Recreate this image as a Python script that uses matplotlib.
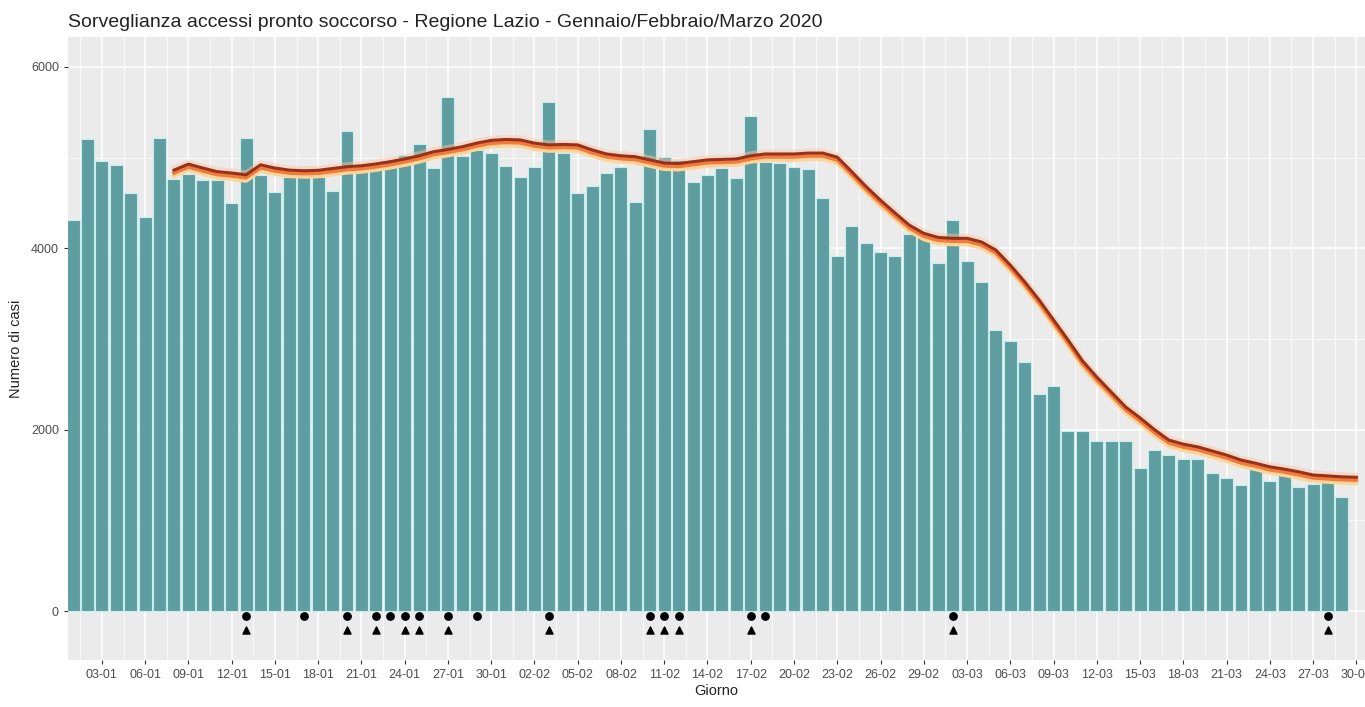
import numpy as np
import matplotlib
matplotlib.use("Agg")
import matplotlib.pyplot as plt
from matplotlib.ticker import MultipleLocator

# daily accesses, 01-01 .. 29-03 2020
accessi = [4310, 5210, 4960, 4915, 4608, 4345, 5215, 4760, 4818, 4750,
           4750, 4500, 5215, 4810, 4620, 4790, 4790, 4790, 4630, 5295,
           4862, 4900, 4970, 5030, 5150, 4885, 5670, 5020, 5080, 5050,
           4905, 4785, 4895, 5610, 5050, 4610, 4690, 4830, 4895, 4510,
           5315, 5010, 4970, 4730, 4805, 4885, 4775, 5460, 4950, 4940,
           4895, 4875, 4555, 3915, 4250, 4060, 3960, 3915, 4155, 4120,
           3840, 4310, 3860, 3625, 3100, 2980, 2745, 2390, 2485, 1985,
           1985, 1875, 1875, 1875, 1580, 1775, 1720, 1675, 1675, 1525,
           1465, 1390, 1565, 1435, 1515, 1370, 1400, 1450, 1260]

# smoothed trend, from 08-01 (day 7) to 30-03 (day 89)
trend_start = 7
trend = [4862, 4928, 4885, 4845, 4830, 4810, 4920, 4885, 4862, 4855,
         4860, 4880, 4900, 4910, 4930, 4955, 4985, 5020, 5065, 5090,
         5120, 5160, 5190, 5200, 5195, 5160, 5140, 5145, 5140, 5085,
         5040, 5020, 5010, 4975, 4940, 4935, 4955, 4975, 4980, 4985,
         5020, 5040, 5040, 5040, 5050, 5050, 5005, 4845, 4680, 4530,
         4390, 4255, 4165, 4120, 4110, 4110, 4070, 3980, 3815, 3630,
         3430, 3210, 2990, 2760, 2580, 2415, 2250, 2130, 2000, 1885,
         1840, 1810, 1765, 1720, 1665, 1630, 1590, 1565, 1535, 1500,
         1490, 1480, 1475]

# alert markers (day index)
giorni_cerchio = [12, 16, 19, 21, 22, 23, 24, 26, 28, 33, 40, 41, 42, 47, 48, 61, 87]
giorni_triangolo = [12, 19, 21, 23, 24, 26, 33, 40, 41, 42, 47, 61, 87]

tick_giorni = list(range(2, 90, 3))
tick_labels = ['03-01', '06-01', '09-01', '12-01', '15-01', '18-01', '21-01',
               '24-01', '27-01', '30-01', '02-02', '05-02', '08-02', '11-02',
               '14-02', '17-02', '20-02', '23-02', '26-02', '29-02', '03-03',
               '06-03', '09-03', '12-03', '15-03', '18-03', '21-03', '24-03',
               '27-03', '30-03']

plt.rcParams['font.family'] = ['Liberation Sans', 'DejaVu Sans']

fig = plt.figure(figsize=(13.65, 7.07), dpi=100)
ax = fig.add_axes([68 / 1365, 1 - 660 / 707, 1 - 68 / 1365, (660 - 37) / 707])
ax.set_facecolor('#EBEBEB')

x = np.arange(len(accessi))
ax.bar(x, accessi, width=0.9, color='#5F9EA0', edgecolor='#c6eef0',
       linewidth=0.8, zorder=2)

xt = np.arange(trend_start, trend_start + len(trend))
t = np.array(trend, dtype=float)
ax.plot(xt, t + 20, color='#f9c6a0', lw=4, alpha=0.45, zorder=3)
ax.plot(xt, t - 65, color='#fdd59a', lw=3, zorder=4)
ax.plot(xt, t - 32, color='#f27a3a', lw=2.6, zorder=5)
ax.plot(xt, t, color='#99301a', lw=2.2, zorder=6)

ax.scatter(giorni_cerchio, [-50] * len(giorni_cerchio), marker='o', s=28,
           color='black', zorder=7)
ax.scatter(giorni_triangolo, [-210] * len(giorni_triangolo), marker='^', s=26,
           color='black', zorder=7)

ax.set_xlim(-0.35, 89.6)
ax.set_ylim(-540, 6330)

ax.set_yticks([0, 2000, 4000, 6000])
ax.yaxis.set_minor_locator(MultipleLocator(1000))
ax.set_xticks(tick_giorni)
ax.set_xticklabels(tick_labels)
ax.set_xticks([0.5] + list(np.array(tick_giorni[:-1]) + 1.5), minor=True)

ax.grid(which='major', color='white', lw=1.1, zorder=0)
ax.grid(which='minor', color='white', lw=0.5, zorder=0)
ax.set_axisbelow(True)
for s in ax.spines.values():
    s.set_visible(False)
ax.tick_params(which='major', length=3, color='#333333', labelsize=9,
               labelcolor='#4d4d4d')
ax.tick_params(which='minor', length=0)

ax.set_xlabel('Giorno', fontsize=10.5, color='#222222', labelpad=2)
ax.set_ylabel('Numero di casi', fontsize=10.5, color='#222222', labelpad=6)
ax.set_title('Sorveglianza accessi pronto soccorso - Regione Lazio - '
             'Gennaio/Febbraio/Marzo 2020', loc='left', fontsize=14,
             color='#222222', pad=7)

fig.savefig('out.png', dpi=100)
